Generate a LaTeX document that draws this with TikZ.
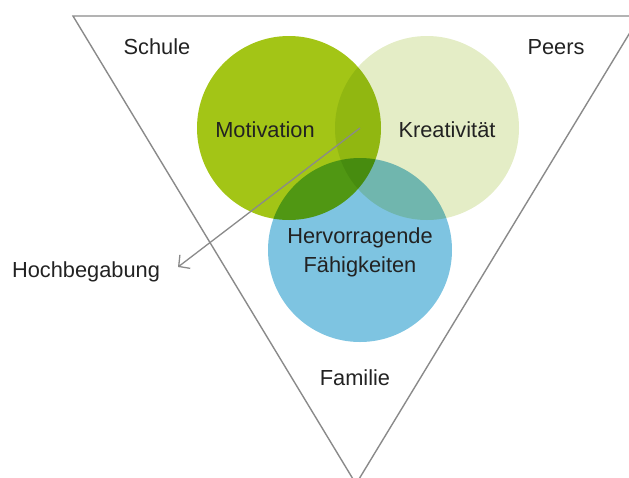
\documentclass[tikz,border=0pt]{standalone}
\usepackage{fontspec}
\setmainfont{Liberation Sans}
\usetikzlibrary{arrows.meta}
\definecolor{motivgreen}{HTML}{A3C516}
\definecolor{kreapale}{HTML}{E4EDC6}
\definecolor{faehblue}{HTML}{7EC4E1}
\definecolor{linegrey}{HTML}{8A8A8A}
\definecolor{txtgrey}{HTML}{222222}

\begin{document}
\begin{tikzpicture}[x=1pt,y=-1pt,
  lbl/.style={text=txtgrey,font=\fontsize{21.8}{29}\selectfont,align=center,inner sep=0pt},
  frame/.style={draw=linegrey,line width=1.4pt,line join=miter},
  pointer/.style={draw=linegrey,line width=1.3pt,-{Straight Barb[length=8pt,width=17pt]}}]
\clip (0,0) rectangle (629,477);
% outer triangle
\draw[frame] (73,16) -- (640,16) -- (356,484) -- cycle;
% circles
\scope[blend group=multiply]
\fill[motivgreen] (289,128) circle (92pt);
\fill[kreapale] (427,128) circle (92pt);
\fill[faehblue] (360,250) circle (92pt);
\endscope
% labels
\node[lbl] (schule) at (157,47) {Schule};
\node[lbl] (peers) at (556,47) {Peers};
\node[lbl] (motiv) at (265,130) {Motivation};
\node[lbl] (krea) at (447,130) {Kreativität};
\node[lbl] (faeh) at (360,252) {Hervorragende\\Fähigkeiten};
\node[lbl] (familie) at (355,378) {Familie};
\node[lbl] (hochb) at (86,272) {Hochbegabung};
% pointer
\coordinate (src) at (360,128);
\coordinate (tip) at (178,267);
\draw[pointer] (src) -- (tip);
\end{tikzpicture}
\end{document}
